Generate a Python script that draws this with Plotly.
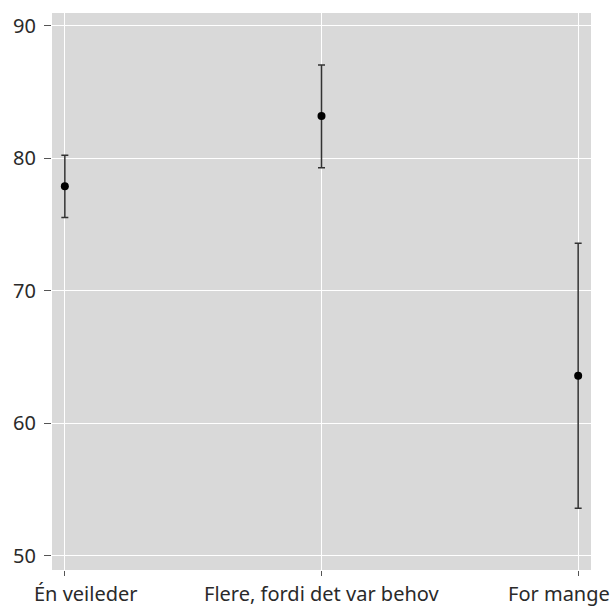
import plotly.graph_objects as go

categories = ["Én veileder", "Flere, fordi det var behov", "For mange"]
means = [77.9, 83.2, 63.6]
upper = [80.25, 87.05, 73.6]
lower = [75.55, 79.3, 53.6]

err_plus = [u - m for u, m in zip(upper, means)]
err_minus = [m - l for m, l in zip(means, lower)]

fig = go.Figure()
fig.add_trace(go.Scatter(
    x=categories, y=means, mode="markers",
    marker=dict(color="black", size=8),
    error_y=dict(type="data", symmetric=False, array=err_plus, arrayminus=err_minus,
                 color="#333333", thickness=1.5, width=3.5),
    showlegend=False,
))

# category labels drawn as annotations so the outer ones can be pulled inward
label_anchor = ["left", "center", "right"]
label_shift = [-32, 0, 33]
for cat, anc, sh in zip(categories, label_anchor, label_shift):
    fig.add_annotation(
        x=cat, xref="x", y=0, yref="paper",
        text=cat, showarrow=False, borderpad=0,
        xanchor=anc, yanchor="top", xshift=sh, yshift=-9,
        font=dict(family="Noto Sans", size=20, color="#2a2a2a"),
    )

fig.update_layout(
    width=613, height=606,
    margin=dict(l=52, r=22, t=13, b=36),
    paper_bgcolor="white",
    plot_bgcolor="#d9d9d9",
    font=dict(family="Noto Sans", size=20, color="#2a2a2a"),
    xaxis=dict(
        type="category", range=[-0.05, 2.05], automargin=False,
        showticklabels=False,
        showgrid=True, gridcolor="white", gridwidth=1.2,
        ticks="outside", ticklen=5, tickcolor="#555555", tickwidth=1,
        zeroline=False, showline=False,
    ),
    yaxis=dict(
        range=[48.94, 90.98], tickvals=[50, 60, 70, 80, 90], automargin=False,
        showgrid=True, gridcolor="white", gridwidth=1.2,
        ticks="outside", ticklen=7, tickcolor="#555555", tickwidth=1,
        ticklabelstandoff=4,
        zeroline=False, showline=False,
    ),
)

fig.write_html("out.html")
